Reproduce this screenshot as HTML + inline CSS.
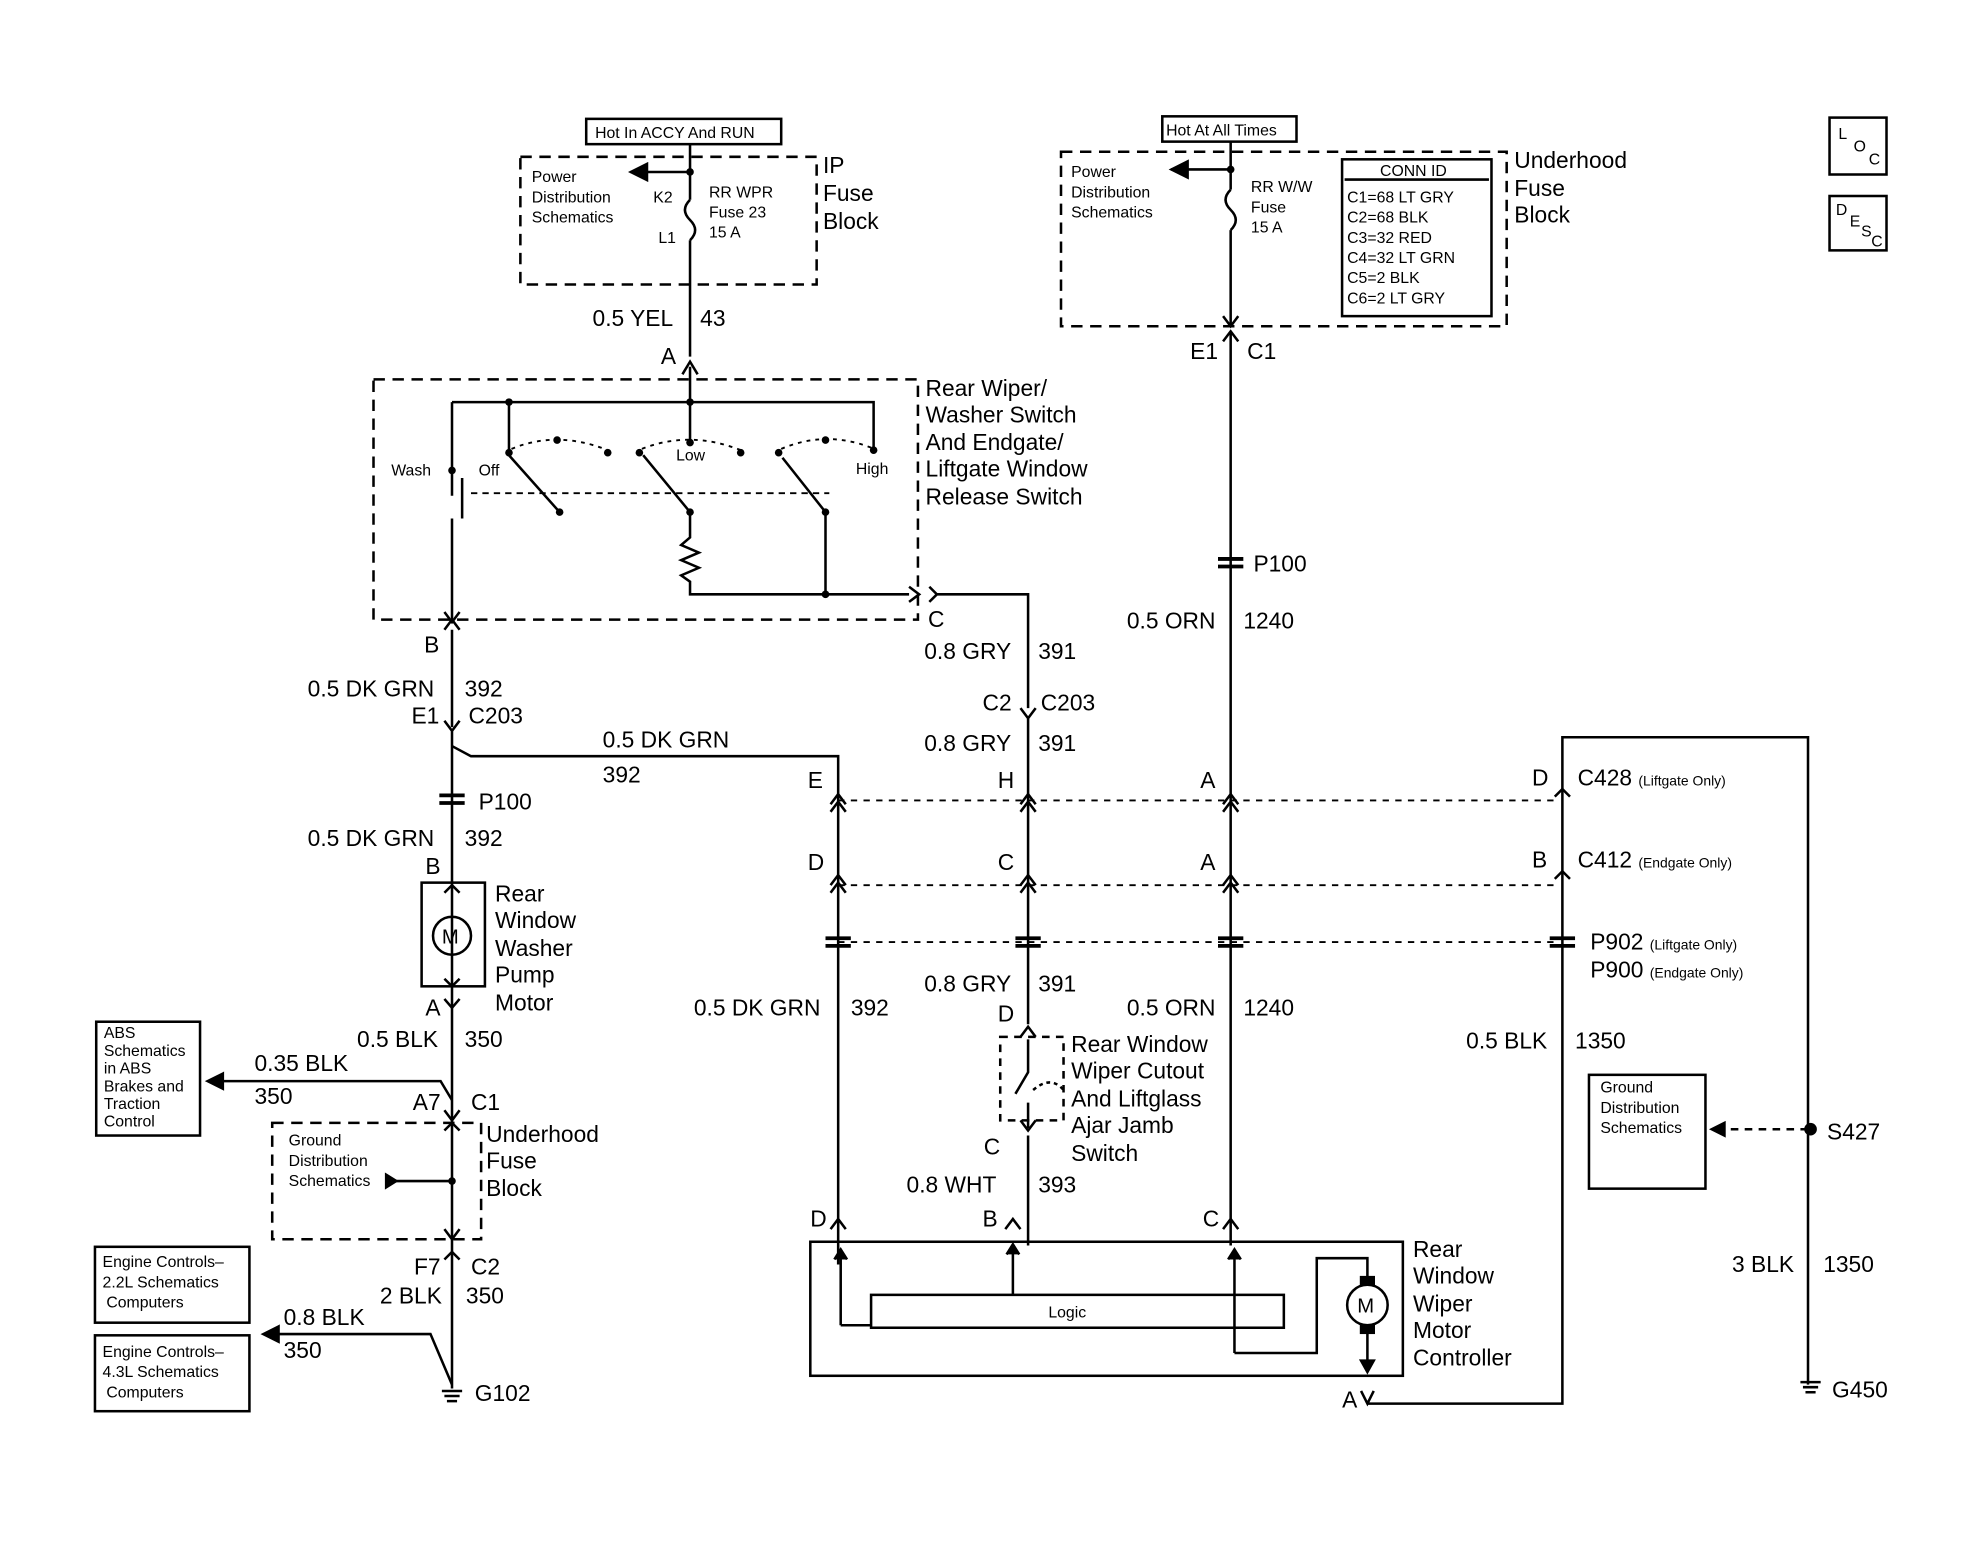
<!DOCTYPE html>
<html><head><meta charset="utf-8"><style>
html,body{margin:0;padding:0;background:#fff;}
svg{display:block;}
text{font-family:"Liberation Sans",sans-serif;fill:#000;}
.l{font-size:18px;}
.s{font-size:12.5px;}
.xs{font-size:11px;}
</style></head><body>
<svg width="1984" height="1568" viewBox="0 0 1567 1240" preserveAspectRatio="none" xmlns="http://www.w3.org/2000/svg">
<defs>
<marker id="ah" markerWidth="8" markerHeight="8" refX="7" refY="4" orient="auto"><path d="M0,0 L8,4 L0,8 Z" fill="#000"/></marker>
</defs>
<g stroke="#000" stroke-width="2" fill="none">
<rect x="463" y="94" width="154" height="20"/>
<rect x="411" y="124" width="234" height="101" stroke-dasharray="9,6"/>
<path d="M545,114 V158 M545,190 V282"/>
<path d="M545,158 q-8,8 0,16 q8,8 0,16"/>
<path d="M545,136 H498" marker-end="url(#ah)"/>
<path d="M539,296 L545,286 L551,296"/>
<rect x="295" y="300" width="430" height="190" stroke-dasharray="9,6"/>
<path d="M545,290 V350 M357,318 H690 V356 M357,318 V372 M402,318 V358"/>
<path d="M357,372 V392 M365,378 V410 M357,410 V490"/>
<path d="M402,360 L442,405 M508,360 L545,405 M618,362 L652,405"/>
<path d="M372,390 H655" stroke-dasharray="5,4" stroke-width="1.5"/>
<path d="M545,405 V425 l-7,6 l14,6 l-14,6 l14,6 l-14,6 l7,5 V470 H718 M652,405 V470"/>
<path d="M718,464 L726,470 L718,476 M734,464 L740,470 L734,476 M740,470 H812 V560"/>
<path d="M404,355 Q440,340 480,356 M507,355 Q545,340 585,356 M617,355 Q652,340 688,354" stroke-dasharray="3,4" stroke-width="1.5"/>
<path d="M351,484 L357,492 L363,484 M351,498 L357,490 L363,498"/>
<path d="M357,498 V575 M351,570 L357,578 L363,570 M357,578 V1098"/>
<path d="M357,590 L372,598 H662 V1000"/>
<path d="M347,629 h20 M347,635 h20" stroke-width="3"/>
<rect x="333" y="698" width="50" height="82"/>
<circle cx="357" cy="740" r="15"/>
<path d="M351,706 L357,700 L363,706 M351,774 L357,780 L363,774"/>
<path d="M351,790 L357,797 L363,790"/>
<rect x="76" y="808" width="82" height="90"/>
<path d="M175,855 H348 L357,870"/>
<path d="M176,849 L164,855 L176,861 Z" fill="#000"/>
<path d="M351,878 L357,886 L363,878 M351,894 L357,888 L363,894"/>
<rect x="215" y="888" width="165" height="92" stroke-dasharray="9,6"/>
<path d="M313,934 H357"/>
<path d="M305,929 L313,934 L305,939 Z" fill="#000"/>
<path d="M351,972 L357,980 L363,972 M351,996 L357,990 L363,996"/>
<rect x="75" y="986" width="122" height="60"/>
<rect x="75" y="1056" width="122" height="60"/>
<path d="M220,1055 H340 L357,1095"/>
<path d="M220,1049 L208,1055 L220,1061 Z" fill="#000"/>
<path d="M349,1100 h16 M351,1104 h12 M353,1108 h8" stroke-width="2"/>
<rect x="918" y="92" width="106" height="20"/>
<rect x="838" y="120" width="352" height="138" stroke-dasharray="9,6"/>
<rect x="1060" y="126" width="118" height="124"/>
<path d="M1062,142 H1176"/>
<path d="M972,112 V150 M972,182 V258"/>
<path d="M972,150 q-8,8 0,16 q8,8 0,16"/>
<path d="M972,134 H925" marker-end="url(#ah)"/>
<path d="M966,250 L972,258 L978,250 M966,270 L972,262 L978,270 M972,262 V985"/>
<path d="M962,442 h20 M962,448 h20" stroke-width="3"/>
<path d="M806,560 L812,568 L818,560 M812,568 V810"/>
<path d="M656,636 L662,628 L668,636 M656,642 L662,634 L668,642 M806,636 L812,628 L818,636 M806,642 L812,634 L818,642 M966,636 L972,628 L978,636 M966,642 L972,634 L978,642 M1228,630 L1234,624 L1240,630"/>
<path d="M656,700 L662,692 L668,700 M656,706 L662,698 L668,706 M806,700 L812,692 L818,700 M806,706 L812,698 L818,706 M966,700 L972,692 L978,700 M966,706 L972,698 L978,706 M1228,695 L1234,689 L1240,695"/>
<path d="M662,633 H1230 M662,700 H1230 M662,745 H1230" stroke-dasharray="5,5" stroke-width="1.5"/>
<path d="M652,742 h20 M652,748 h20 M802,742 h20 M802,748 h20 M962,742 h20 M962,748 h20 M1224,742 h20 M1224,748 h20" stroke-width="3"/>
<rect x="790" y="820" width="50" height="66" stroke-dasharray="6,5"/>
<path d="M806,820 L812,812 L818,820 M812,822 V848 L802,865 M812,872 V892 M806,886 L812,894 L818,886 M812,898 V985"/>
<path d="M816,862 Q830,850 840,862" stroke-dasharray="3,3"/>
<rect x="640" y="982" width="468" height="106"/>
<rect x="688" y="1024" width="326" height="26"/>
<path d="M656,972 L662,964 L668,972 M794,972 L800,964 L806,972 M966,972 L972,964 L978,972"/>
<path d="M664,1048 V990 M664,1048 H688 M800,1024 V988 M975,1070 V990 M975,1070 H1040 V995 H1080 V1016 M1080,1048 V1082"/>
<path d="M659,996 L664,988 L669,996 M795,992 L800,984 L805,992 M970,996 L975,988 L980,996" fill="#000"/>
<path d="M1075,1076 L1080,1085 L1085,1076 Z" fill="#000"/>
<circle cx="1080" cy="1032" r="16"/>
<rect x="1075" y="1010" width="10" height="6" fill="#000"/>
<rect x="1075" y="1048" width="10" height="6" fill="#000"/>
<path d="M1085,1100 L1080,1110 L1075,1100 M1080,1110 H1234 V583 H1428 V1095"/>
<rect x="1255" y="850" width="92" height="90"/>
<path d="M1428,893 H1362" stroke-dasharray="6,5"/>
<path d="M1362,888 L1352,893 L1362,898 Z" fill="#000"/>
<circle cx="1430" cy="893" r="4" fill="#000"/>
<path d="M1422,1093 h16 M1424,1097 h12 M1426,1101 h8"/>
<rect x="1445" y="93" width="45" height="45"/>
<rect x="1445" y="155" width="45" height="43"/>
</g>
<g fill="#000">
<circle cx="545" cy="136" r="3"/><circle cx="972" cy="134" r="3"/>
<circle cx="357" cy="372" r="3"/><circle cx="402" cy="358" r="3"/><circle cx="440" cy="348" r="3"/><circle cx="480" cy="358" r="3"/><circle cx="505" cy="358" r="3"/><circle cx="545" cy="350" r="3"/><circle cx="585" cy="358" r="3"/><circle cx="615" cy="358" r="3"/><circle cx="652" cy="348" r="3"/><circle cx="690" cy="356" r="3"/>
<circle cx="442" cy="405" r="3"/><circle cx="545" cy="405" r="3"/><circle cx="652" cy="405" r="3"/><circle cx="652" cy="470" r="3"/><circle cx="357" cy="934" r="3"/><circle cx="402" cy="318" r="3"/><circle cx="545" cy="318" r="3"/>
</g>
<text class="s" x="470" y="109">Hot In ACCY And RUN</text>
<text class="s" x="921" y="107">Hot At All Times</text>
<text class="s" x="420" y="144">Power</text><text class="s" x="420" y="160">Distribution</text><text class="s" x="420" y="176">Schematics</text>
<text class="s" x="516" y="160">K2</text><text class="s" x="520" y="192">L1</text>
<text class="s" x="560" y="156">RR WPR</text><text class="s" x="560" y="172">Fuse 23</text><text class="s" x="560" y="188">15 A</text>
<text class="l" x="650" y="137">IP</text><text class="l" x="650" y="159">Fuse</text><text class="l" x="650" y="181">Block</text>
<text class="l" x="468" y="258">0.5 YEL</text><text class="l" x="553" y="258">43</text><text class="l" x="522" y="288">A</text>
<text class="l" x="731" y="313">Rear Wiper/</text><text class="l" x="731" y="334">Washer Switch</text><text class="l" x="731" y="356">And Endgate/</text><text class="l" x="731" y="377">Liftgate Window</text><text class="l" x="731" y="399">Release Switch</text>
<text class="s" x="309" y="376">Wash</text><text class="s" x="378" y="376">Off</text><text class="s" x="534" y="364">Low</text><text class="s" x="676" y="375">High</text>
<text class="l" x="335" y="516">B</text><text class="l" x="733" y="496">C</text>
<text class="l" x="243" y="551">0.5 DK GRN</text><text class="l" x="367" y="551">392</text>
<text class="l" x="325" y="572">E1</text><text class="l" x="370" y="572">C203</text>
<text class="l" x="476" y="591">0.5 DK GRN</text><text class="l" x="476" y="619">392</text>
<text class="l" x="378" y="640">P100</text>
<text class="l" x="243" y="669">0.5 DK GRN</text><text class="l" x="367" y="669">392</text><text class="l" x="336" y="691">B</text>
<text x="349" y="746" style="font-size:16px">M</text>
<text class="l" x="391" y="713">Rear</text><text class="l" x="391" y="734">Window</text><text class="l" x="391" y="756">Washer</text><text class="l" x="391" y="777">Pump</text><text class="l" x="391" y="799">Motor</text>
<text class="l" x="336" y="803">A</text>
<text class="l" x="282" y="828">0.5 BLK</text><text class="l" x="367" y="828">350</text>
<text class="s" x="82" y="821">ABS</text><text class="s" x="82" y="835">Schematics</text><text class="s" x="82" y="849">in ABS</text><text class="s" x="82" y="863">Brakes and</text><text class="s" x="82" y="877">Traction</text><text class="s" x="82" y="891">Control</text>
<text class="l" x="201" y="847">0.35 BLK</text><text class="l" x="201" y="873">350</text>
<text class="l" x="326" y="878">A7</text><text class="l" x="372" y="878">C1</text>
<text class="s" x="228" y="906">Ground</text><text class="s" x="228" y="922">Distribution</text><text class="s" x="228" y="938">Schematics</text>
<text class="l" x="384" y="903">Underhood</text><text class="l" x="384" y="924">Fuse</text><text class="l" x="384" y="946">Block</text>
<text class="l" x="327" y="1008">F7</text><text class="l" x="372" y="1008">C2</text>
<text class="l" x="300" y="1031">2 BLK</text><text class="l" x="368" y="1031">350</text>
<text class="s" x="81" y="1002">Engine Controls–</text><text class="s" x="81" y="1018">2.2L Schematics</text><text class="s" x="84" y="1034">Computers</text>
<text class="s" x="81" y="1073">Engine Controls–</text><text class="s" x="81" y="1089">4.3L Schematics</text><text class="s" x="84" y="1105">Computers</text>
<text class="l" x="224" y="1048">0.8 BLK</text><text class="l" x="224" y="1074">350</text>
<text class="l" x="375" y="1108">G102</text>
<text class="s" x="846" y="140">Power</text><text class="s" x="846" y="156">Distribution</text><text class="s" x="846" y="172">Schematics</text>
<text class="s" x="988" y="152">RR W/W</text><text class="s" x="988" y="168">Fuse</text><text class="s" x="988" y="184">15 A</text>
<text class="s" x="1090" y="139">CONN ID</text>
<text class="s" x="1064" y="160">C1=68 LT GRY</text><text class="s" x="1064" y="176">C2=68 BLK</text><text class="s" x="1064" y="192">C3=32 RED</text><text class="s" x="1064" y="208">C4=32 LT GRN</text><text class="s" x="1064" y="224">C5=2 BLK</text><text class="s" x="1064" y="240">C6=2 LT GRY</text>
<text class="l" x="1196" y="133">Underhood</text><text class="l" x="1196" y="155">Fuse</text><text class="l" x="1196" y="176">Block</text>
<text class="l" x="940" y="284">E1</text><text class="l" x="985" y="284">C1</text>
<text class="l" x="990" y="452">P100</text>
<text class="l" x="890" y="497">0.5 ORN</text><text class="l" x="982" y="497">1240</text>
<text class="l" x="730" y="521">0.8 GRY</text><text class="l" x="820" y="521">391</text>
<text class="l" x="776" y="562">C2</text><text class="l" x="822" y="562">C203</text>
<text class="l" x="730" y="594">0.8 GRY</text><text class="l" x="820" y="594">391</text>
<text class="l" x="638" y="623">E</text><text class="l" x="788" y="623">H</text><text class="l" x="948" y="623">A</text><text class="l" x="1210" y="621">D</text>
<text class="l" x="1246" y="621">C428 <tspan class="xs">(Liftgate Only)</tspan></text>
<text class="l" x="638" y="688">D</text><text class="l" x="788" y="688">C</text><text class="l" x="948" y="688">A</text><text class="l" x="1210" y="686">B</text>
<text class="l" x="1246" y="686">C412 <tspan class="xs">(Endgate Only)</tspan></text>
<text class="l" x="1256" y="751">P902 <tspan class="xs">(Liftgate Only)</tspan></text>
<text class="l" x="1256" y="773">P900 <tspan class="xs">(Endgate Only)</tspan></text>
<text class="l" x="730" y="784">0.8 GRY</text><text class="l" x="820" y="784">391</text>
<text class="l" x="548" y="803">0.5 DK GRN</text><text class="l" x="672" y="803">392</text>
<text class="l" x="890" y="803">0.5 ORN</text><text class="l" x="982" y="803">1240</text>
<text class="l" x="788" y="808">D</text>
<text class="l" x="846" y="832">Rear Window</text><text class="l" x="846" y="853">Wiper Cutout</text><text class="l" x="846" y="875">And Liftglass</text><text class="l" x="846" y="896">Ajar Jamb</text><text class="l" x="846" y="918">Switch</text>
<text class="l" x="1158" y="829">0.5 BLK</text><text class="l" x="1244" y="829">1350</text>
<text class="s" x="1264" y="864">Ground</text><text class="s" x="1264" y="880">Distribution</text><text class="s" x="1264" y="896">Schematics</text>
<text class="l" x="1443" y="901">S427</text>
<text class="l" x="777" y="913">C</text>
<text class="l" x="716" y="943">0.8 WHT</text><text class="l" x="820" y="943">393</text>
<text class="l" x="640" y="970">D</text><text class="l" x="776" y="970">B</text><text class="l" x="950" y="970">C</text>
<text class="l" x="1116" y="994">Rear</text><text class="l" x="1116" y="1015">Window</text><text class="l" x="1116" y="1037">Wiper</text><text class="l" x="1116" y="1058">Motor</text><text class="l" x="1116" y="1080">Controller</text>
<text class="s" x="828" y="1042">Logic</text>
<text x="1072" y="1038" style="font-size:16px">M</text>
<text class="l" x="1368" y="1006">3 BLK</text><text class="l" x="1440" y="1006">1350</text>
<text class="l" x="1060" y="1113">A</text><text class="l" x="1447" y="1105">G450</text>
<text class="s" x="1452" y="110">L</text><text class="s" x="1464" y="120">O</text><text class="s" x="1476" y="130">C</text>
<text class="s" x="1450" y="170">D</text><text class="s" x="1461" y="179">E</text><text class="s" x="1470" y="187">S</text><text class="s" x="1478" y="195">C</text>
</svg>
</body></html>
